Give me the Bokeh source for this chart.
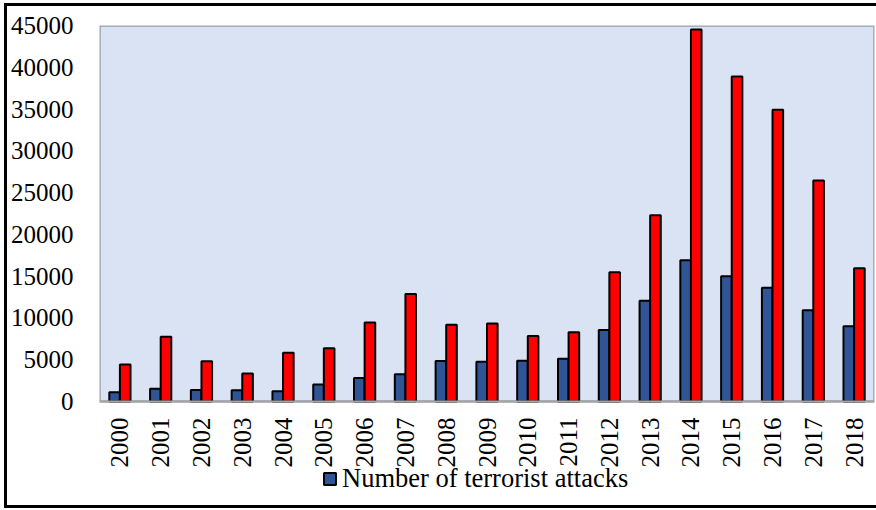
from math import pi
from bokeh.plotting import figure
from bokeh.models import (FactorRange, ColumnDataSource, Range1d, Legend,
                          LegendItem, FixedTicker, BoxAnnotation)
from bokeh.transform import dodge
from bokeh.embed import file_html
from bokeh.resources import INLINE

years = [str(y) for y in range(2000, 2019)]
attacks = [1110, 1520, 1390, 1350, 1230, 2030, 2820, 3260, 4850, 4770, 4890, 5110,
           8560, 12070, 16910, 15000, 13620, 10930, 9020]
deaths = [4420, 7760, 4820, 3340, 5820, 6360, 9440, 12860, 9200, 9340, 7830, 8280,
          15460, 22290, 44520, 38900, 34930, 26450, 15960]
y_ticks = list(range(0, 45001, 5000))
Y_MAX = 45000

FONT = "Liberation Serif"
source = ColumnDataSource(dict(year=years, attacks=attacks, deaths=deaths))

# frame spans from the plot top down to the legend area; the category axis sits at y=0
TOP, ZERO, BOTTOM = 25, 401, 505
y_start = -Y_MAX * (BOTTOM - ZERO) / (ZERO - TOP)

p = figure(x_range=FactorRange(*years, range_padding=0), y_range=Range1d(y_start, Y_MAX),
           width=876, height=510, output_backend="svg", toolbar_location=None,
           min_border_left=99, min_border_right=2, min_border_top=TOP,
           min_border_bottom=510 - BOTTOM)
# outer frame of the whole chart, painted behind the transparent canvas
p.styles = {"box-shadow": "inset 4px 3px 0 0 white, inset 0 -2px 0 0 white, "
                          "inset 7px 6px 0 0 black, inset 0 -5px 0 0 black",
            "background-color": "white"}
p.background_fill_alpha = 0
p.border_fill_alpha = 0
p.outline_line_color = None
p.grid.visible = False

plot_area = BoxAnnotation(bottom=0, top=Y_MAX, fill_color="#DAE3F3", fill_alpha=1,
                          line_color="black", line_width=2.5, level="underlay")
p.add_layout(plot_area)

r1 = p.vbar(x=dodge("year", -0.13, range=p.x_range), top="attacks", width=0.26, source=source,
            fill_color="#2F5597", line_color="black", line_width=2)
r2 = p.vbar(x=dodge("year", 0.13, range=p.x_range), top="deaths", width=0.26, source=source,
            fill_color="#FF0000", line_color="black", line_width=2)

ya = p.yaxis[0]
ya.ticker = FixedTicker(ticks=y_ticks)
ya.major_tick_in = 0
ya.major_tick_out = 0
ya.minor_tick_line_color = None
ya.axis_line_color = None
ya.major_label_standoff = 26
ya.major_label_text_font = FONT
ya.major_label_text_font_size = "25px"
ya.major_label_text_color = "black"

xa = p.xaxis[0]
xa.fixed_location = 0
xa.major_tick_in = 0
xa.major_tick_out = 0
xa.axis_line_color = "#A6A6A6"
xa.axis_line_width = 2
xa.major_label_orientation = pi / 2
xa.major_label_standoff = 16
xa.major_label_text_font = FONT
xa.major_label_text_font_size = "25px"
xa.major_label_text_color = "black"

legend = Legend(items=[LegendItem(label="Number of terrorist attacks", renderers=[r1])],
                location=(223, 11), orientation="horizontal",
                label_text_font=FONT, label_text_font_size="26.5px",
                label_text_color="black",
                glyph_width=15, glyph_height=15, label_standoff=5,
                padding=0, margin=0, spacing=0, border_line_color=None,
                background_fill_alpha=0)
p.add_layout(legend, "center")

open("out.html", "w").write(file_html(p, INLINE))
